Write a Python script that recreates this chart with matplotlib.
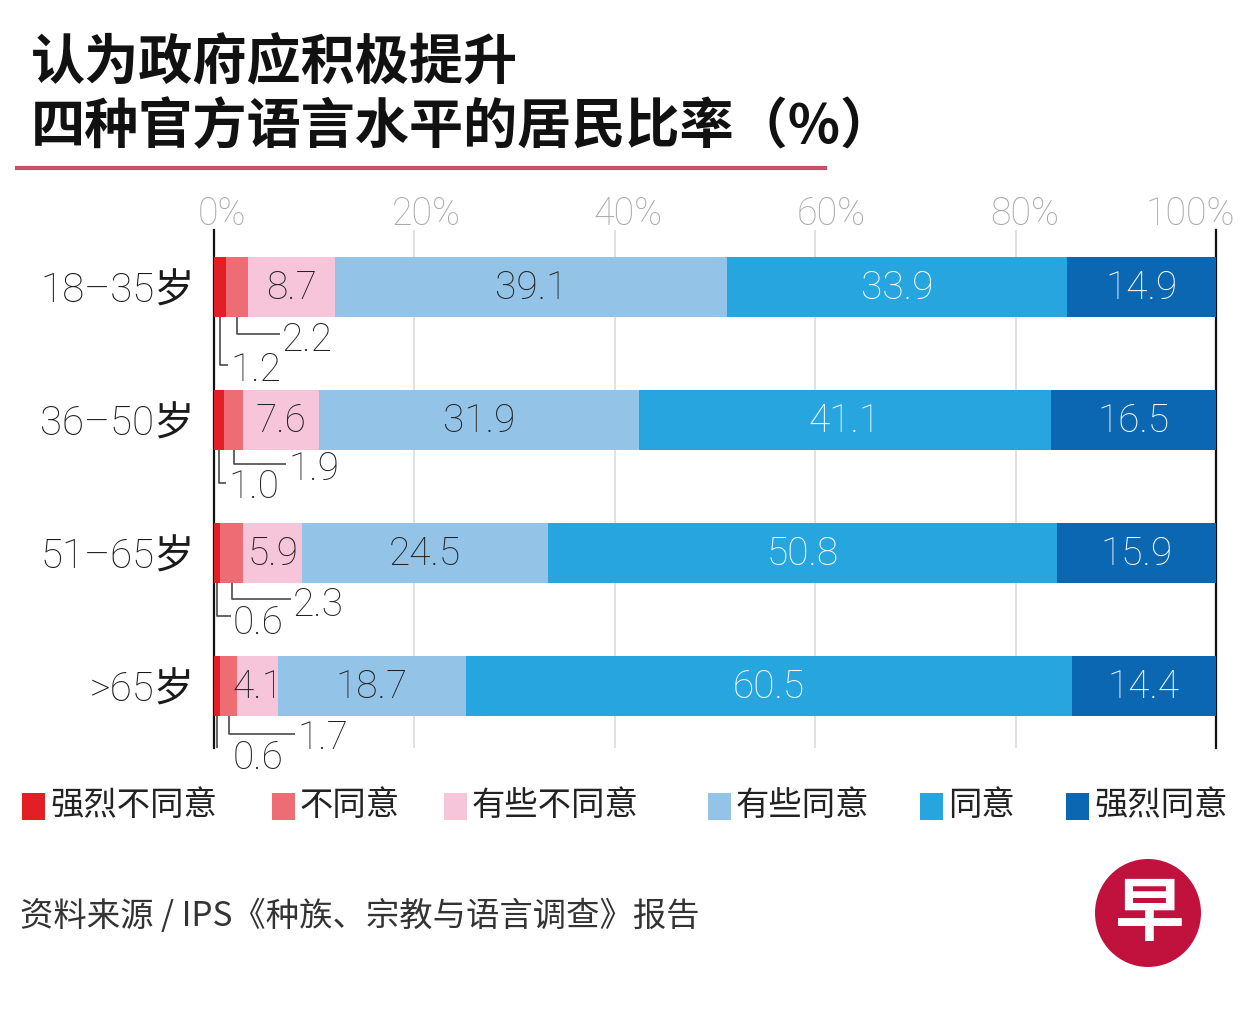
import matplotlib
matplotlib.use('Agg')
import matplotlib.pyplot as plt
from matplotlib.patches import Rectangle, Ellipse
from matplotlib.lines import Line2D
from matplotlib.transforms import offset_copy

# ---------------- data ----------------
categories = ['18–35岁', '36–50岁', '51–65岁', '>65岁']
series_names = ['强烈不同意', '不同意', '有些不同意', '有些同意', '同意', '强烈同意']
strongly_disagree = [1.2, 1.0, 0.6, 0.6]
disagree = [2.2, 1.9, 2.3, 1.7]
somewhat_disagree = [8.7, 7.6, 5.9, 4.1]
somewhat_agree = [39.1, 31.9, 24.5, 18.7]
agree = [33.9, 41.1, 50.8, 60.5]
strongly_agree = [14.9, 16.5, 15.9, 14.4]
x_ticks = [0, 20, 40, 60, 80, 100]
x_tick_labels = ['0%', '20%', '40%', '60%', '80%', '100%']
title_line1 = '认为政府应积极提升'
title_line2 = '四种官方语言水平的居民比率（%）'
source_text = '资料来源 / IPS《种族、宗教与语言调查》报告'
logo_text = '早'

# ---------------- style / layout ----------------
W, H = 1251, 1032
colors = ['#e31f26', '#ee6d74', '#f7c5da', '#93c4e8', '#27a5df', '#0b67b2']
text_colors = ['#222222', '#222222', '#222222', '#222222', '#ffffff', '#ffffff']
NUM_FONT = ['Roboto', 'Noto Sans CJK SC', 'DejaVu Sans']
CJK_FONT = ['Noto Sans CJK SC', 'DejaVu Sans']
ROW_PX = 133.0
BAR_H = 0.444
tick_dx_px = [8, 12, 13, 16, 9, -26]
# leader-label layout (pixels below bar bottom, label start in %)
dis_lbl_x = [6.8, 7.4, 7.9, 8.3]
dis_line_dy = [17, 14, 16, 18]
dis_text_dy = [24, 20, 23, 23]
sd_lbl_x = [1.6, 1.4, 1.9, 1.9]
sd_line_dy = [48, 33, 33, 34]
sd_text_dy = [54, 38, 41, 43]
legend_sq_x = [22, 272, 444, 708, 920, 1066]


def fx(px):
    return px / W


def fy(py):
    return 1 - py / H


fig = plt.figure(figsize=(W / 100, H / 100), dpi=100)
fig.patch.set_facecolor('white')

ax_top, ax_bot = 230, 748
ax = fig.add_axes([fx(214), fy(ax_bot), (1216 - 214) / W, (ax_bot - ax_top) / H])
ax.set_xlim(0, 100)
top_y = -(287 - ax_top) / ROW_PX
bot_y = 3 + (ax_bot - 686) / ROW_PX
ax.set_ylim(bot_y, top_y)

series = [strongly_disagree, disagree, somewhat_disagree, somewhat_agree, agree, strongly_agree]
rows = list(range(len(categories)))
lefts = [0.0] * len(categories)
for k, vals in enumerate(series):
    ax.barh(rows, vals, left=lefts, height=BAR_H, color=colors[k], linewidth=0, zorder=3)
    if k >= 2:
        for i, v in enumerate(vals):
            ax.text(lefts[i] + v / 2, i + 0.01, f'{v:.1f}', ha='center', va='center',
                    fontsize=28, color=text_colors[k], family=NUM_FONT, weight='light', zorder=4)
    lefts = [l + v for l, v in zip(lefts, vals)]

# leader-line labels for the two small segments
lc = '#4a4a4a'
for i in rows:
    bottom = i + BAR_H / 2
    # disagree
    cx = strongly_disagree[i] + disagree[i] / 2
    yl = bottom + dis_line_dy[i] / ROW_PX
    ax.plot([cx, cx, dis_lbl_x[i] - 0.2], [bottom, yl, yl], color=lc, lw=1.2, zorder=2,
            solid_capstyle='butt')
    ax.text(dis_lbl_x[i], bottom + dis_text_dy[i] / ROW_PX, f'{disagree[i]:.1f}', ha='left',
            va='center', fontsize=28, color='#222222', family=NUM_FONT, weight='light')
    # strongly disagree
    cx = strongly_disagree[i] / 2
    yl = bottom + sd_line_dy[i] / ROW_PX
    ax.plot([cx, cx, sd_lbl_x[i] - 0.2], [bottom, yl, yl], color=lc, lw=1.2, zorder=2,
            solid_capstyle='butt')
    ax.text(sd_lbl_x[i], bottom + sd_text_dy[i] / ROW_PX, f'{strongly_disagree[i]:.1f}', ha='left',
            va='center', fontsize=28, color='#222222', family=NUM_FONT, weight='light')

# axes styling
ax.set_xticks(x_ticks)
ax.grid(axis='x', color='#dedede', lw=1.3, zorder=0)
ax.tick_params(axis='x', length=0, labelbottom=False, labeltop=False)
for s in ['top', 'bottom']:
    ax.spines[s].set_visible(False)
for s in ['left', 'right']:
    ax.spines[s].set_color('#111111')
    ax.spines[s].set_linewidth(1.6)
ax.set_yticks(rows)
ax.set_yticklabels(categories, fontsize=29, family=NUM_FONT, weight='light', color='#1a1a1a')
ax.tick_params(axis='y', length=0, pad=14)

for t, lab, dx in zip(x_ticks, x_tick_labels, tick_dx_px):
    tr = offset_copy(ax.get_xaxis_transform(), fig=fig, x=dx * 0.72, y=5 * 0.72, units='points')
    ax.text(t, 1.0, lab, transform=tr, ha='center', va='baseline', fontsize=27,
            color='#a8a8a8', family=NUM_FONT, weight='light')

# title
fig.text(fx(31), fy(64), title_line1, ha='left', va='center', fontsize=39, weight='black',
         family=CJK_FONT, color='#111111')
fig.text(fx(31), fy(128), title_line2, ha='left', va='center', fontsize=39, weight='black',
         family=CJK_FONT, color='#111111')
fig.add_artist(Line2D([fx(17), fx(825)], [fy(168), fy(168)], color='#c9506b', lw=3,
                      transform=fig.transFigure))

# legend
for k, name in enumerate(series_names):
    x0 = legend_sq_x[k]
    fig.add_artist(Rectangle((fx(x0), fy(820)), 23 / W, 27 / H, color=colors[k],
                             transform=fig.transFigure, lw=0))
    fig.text(fx(x0 + 28), fy(806), name, ha='left', va='center', fontsize=24,
             family=CJK_FONT, weight='light', color='#222222')

# source
fig.text(fx(20), fy(917), source_text, ha='left', va='center', fontsize=24,
         family=CJK_FONT, weight='light', color='#333333')

# logo
fig.add_artist(Ellipse((fx(1148), fy(913)), 106 / W, 108 / H, color='#c1123e',
                       transform=fig.transFigure, lw=0))
fig.text(fx(1150), fy(915), logo_text, ha='center', va='center', fontsize=50,
         family=CJK_FONT, weight='bold', color='white')

fig.savefig('out.png', dpi=100, facecolor='white')
